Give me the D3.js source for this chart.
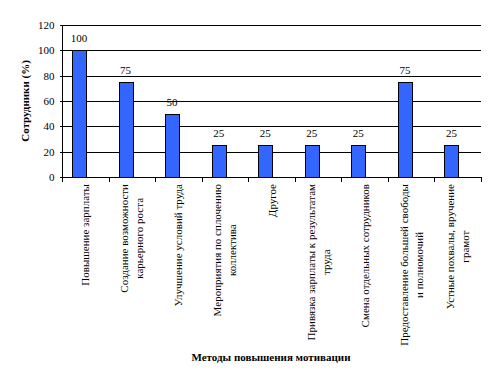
<!DOCTYPE html>
<html>
<head>
  <meta charset="UTF-8">
  <title>motivation-bars</title>
  <style type="text/css">
    body { margin: 0; background: #fff; }
    text { font-family: "Liberation Serif", "Times New Roman", serif; fill: #000; }
    .grid line { stroke: #000; stroke-width: 1px; shape-rendering: crispEdges; }
    .axis path, .axis line { stroke: #000; shape-rendering: crispEdges; }
    .bar { fill: #3366ff; stroke: #000; stroke-width: 1px; shape-rendering: crispEdges; }
  </style>
</head>
<body>
  <div class="svg-zone"></div>
  <script src="https://cdn.jsdelivr.net/npm/d3@7"></script>
  <script type="text/javascript">
    var categories = [
      ["Повышение зарплаты"],
      ["Создание возможности", "карьерного роста"],
      ["Улучшение условий труда"],
      ["Мероприятия по сплочению", "коллектива"],
      ["Другое"],
      ["Привязка зарплаты к результатам", "труда"],
      ["Смена отдельных сотрудников"],
      ["Предоставление большей свободы", "и полномочий"],
      ["Устные похвалы, вручение", "грамот"]
    ];
    var values = [100, 75, 50, 25, 25, 25, 25, 75, 25];
    var yTicks = [0, 20, 40, 60, 80, 100, 120];

    var width = 497,
      height = 385,
      plotLeft = 62, plotRight = 481, plotTop = 25, plotBottom = 177;

    var x = d3.scaleBand()
      .domain(d3.range(categories.length))
      .range([plotLeft, plotRight]);

    var y = d3.scaleLinear()
      .domain([0, 120])
      .range([plotBottom, plotTop]);

    var svg = d3.select(".svg-zone").append("svg")
      .attr("width", width)
      .attr("height", height);

    // horizontal gridlines
    svg.append("g").attr("class", "grid")
      .selectAll("line")
      .data(yTicks.slice(1))
      .enter().append("line")
      .attr("x1", plotLeft).attr("x2", plotRight)
      .attr("y1", function (d) { return Math.round(y(d)) + 0.5; })
      .attr("y2", function (d) { return Math.round(y(d)) + 0.5; });

    // bars (sit left of the band centre as in the original)
    var bw = x.bandwidth();
    svg.selectAll(".bar")
      .data(values)
      .enter().append("rect")
      .attr("class", "bar")
      .attr("x", function (d, i) { return Math.round(x(i) + bw * 0.215) + 0.5; })
      .attr("width", Math.round(bw * 0.3))
      .attr("y", function (d) { return Math.round(y(d)) + 0.5; })
      .attr("height", function (d) { return Math.round(y(0)) - Math.round(y(d)); });

    svg.selectAll(".val")
      .data(values)
      .enter().append("text")
      .attr("class", "val")
      .attr("x", function (d, i) { return x(i) + bw * 0.365; })
      .attr("y", function (d) { return y(d) - 8; })
      .attr("text-anchor", "middle")
      .style("font-size", "11px")
      .text(function (d) { return d; });

    // y axis
    var yAxis = svg.append("g").attr("class", "axis")
      .attr("transform", "translate(" + (plotLeft + 0.5) + ",0)")
      .call(d3.axisLeft(y).tickValues(yTicks).tickSize(3).tickPadding(5));
    yAxis.selectAll("text").style("font-size", "11px").style("font-family", "Liberation Serif");
    yAxis.select(".domain").attr("d", "M0," + plotTop + "V" + (Math.round(y(0)) + 0.5));

    // x axis with ticks at category boundaries
    var xg = svg.append("g").attr("class", "axis")
      .attr("transform", "translate(0," + (Math.round(y(0)) + 0.5) + ")");
    xg.append("line").attr("x1", plotLeft).attr("x2", plotRight + 1);
    xg.selectAll(".tk")
      .data(d3.range(categories.length + 1))
      .enter().append("line")
      .attr("class", "tk")
      .attr("x1", function (i) { return Math.round(plotLeft + i * bw) + 0.5; })
      .attr("x2", function (i) { return Math.round(plotLeft + i * bw) + 0.5; })
      .attr("y1", 0).attr("y2", 4);

    // rotated category labels
    var labelTop = 184, lineH = 15;
    categories.forEach(function (lines, i) {
      var cx = x(i) + bw / 2;
      var g = svg.append("g");
      var texts = lines.map(function (s) {
        return g.append("text").style("font-size", "11px").attr("text-anchor", "middle").text(s);
      });
      var maxLen = d3.max(texts, function (t) { return t.node().getComputedTextLength(); });
      var off = (lines.length - 1) * lineH / 2;
      texts.forEach(function (t, k) {
        t.attr("transform", "translate(" + (cx - off + k * lineH + 4) + "," + (labelTop + maxLen / 2) + ") rotate(-90)");
      });
    });

    svg.append("text")
      .attr("transform", "translate(29," + ((plotTop + plotBottom) / 2) + ") rotate(-90)")
      .attr("text-anchor", "middle")
      .style("font-size", "11px")
      .style("font-weight", "bold")
      .text("Сотрудники (%)");

    svg.append("text")
      .attr("x", 271)
      .attr("y", 361)
      .attr("text-anchor", "middle")
      .style("font-size", "11px")
      .style("font-weight", "bold")
      .text("Методы повышения мотивации");
  </script>
</body>
</html>
